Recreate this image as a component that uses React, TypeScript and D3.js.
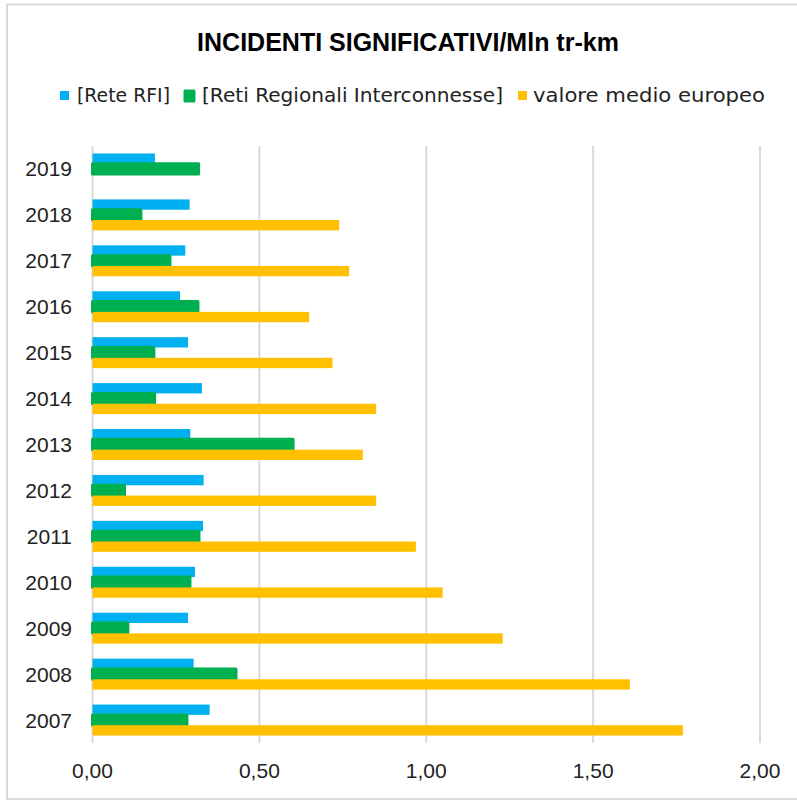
import React from 'react';
import * as d3 from 'd3';

// Significant incidents per million train-km, by year
const years = ['2019', '2018', '2017', '2016', '2015', '2014', '2013', '2012', '2011', '2010', '2009', '2008', '2007'];
const reteRFI = [0.187, 0.291, 0.278, 0.262, 0.286, 0.328, 0.293, 0.333, 0.331, 0.307, 0.286, 0.303, 0.351];
const retiRegionali = [0.318, 0.145, 0.232, 0.316, 0.184, 0.186, 0.601, 0.096, 0.319, 0.292, 0.106, 0.43, 0.283];
const mediaEuropea: (number | null)[] = [null, 0.739, 0.769, 0.649, 0.719, 0.85, 0.81, 0.85, 0.969, 1.049, 1.229, 1.61, 1.769];

const seriesNames = ['[Rete RFI]', '[Reti Regionali Interconnesse]', 'valore medio europeo'];
const seriesColors = ['#00B0F0', '#00B050', '#FFC000'];
const xTicks = [0, 0.5, 1, 1.5, 2];

const W = 797;
const H = 800;

const itLocale = d3.formatLocale({ decimal: ',', thousands: '.', grouping: [3], currency: ['€', ''] });
const fmt = itLocale.format('.2f');

export default function App() {
  const x = d3.scaleLinear().domain([0, 2]).range([92.5, 760]);
  const y = d3.scaleBand<string>().domain(years).range([146, 743]).paddingInner(0.326).paddingOuter(0.163);
  const sub = d3.scaleBand<number>().domain([0, 1, 2]).range([0, y.bandwidth()]);

  const series = [reteRFI, retiRegionali, mediaEuropea];

  // legend layout: swatch x, text x, text length
  const legendItems = [
    { sq: 60, tx: 77, len: 93 },
    { sq: 185, tx: 202, len: 301 },
    { sq: 518, tx: 533, len: 232 },
  ];

  return (
    <svg width={W} height={H} style={{ position: 'absolute', left: 0, top: 0, background: '#fff' }}>
      <rect x={7} y={4.5} width={800} height={794.5} fill="#fff" stroke="#D9D9D9" strokeWidth={2} />
      <text x={408} y={51} textAnchor="middle" fontFamily="Liberation Sans, Arial, sans-serif" fontWeight="bold" fontSize={25} fill="#000">
        INCIDENTI SIGNIFICATIVI/Mln tr-km
      </text>

      {legendItems.map((it, i) => (
        <g key={seriesNames[i]}>
          {i === 1 ? (
            <rect x={it.sq} y={91} width={9} height={10} fill={seriesColors[i]} stroke={seriesColors[i]} strokeWidth={3} strokeLinejoin="round" />
          ) : (
            <rect x={it.sq} y={91} width={9} height={9} fill={seriesColors[i]} />
          )}
          <text
            x={it.tx}
            y={102}
            fontFamily="DejaVu Sans, sans-serif"
            fontSize={19.5}
            fill="#222"
            textLength={it.len}
            lengthAdjust="spacingAndGlyphs"
          >
            {seriesNames[i]}
          </text>
        </g>
      ))}

      {xTicks.map((t) => (
        <g key={t}>
          <line x1={x(t)} x2={x(t)} y1={146} y2={743} stroke="#D9D9D9" strokeWidth={2} />
          <text x={x(t)} y={778} textAnchor="middle" fontFamily="Liberation Sans, Arial, sans-serif" fontSize={21} fill="#222">
            {fmt(t)}
          </text>
        </g>
      ))}

      {years.map((yr, yi) => (
        <g key={yr} transform={`translate(0,${y(yr)})`}>
          {series.map((s, si) => {
            const v = s[yi];
            if (v == null) return null;
            const isGreen = si === 1;
            return (
              <rect
                key={si}
                x={x(0)}
                y={sub(si)}
                width={x(v) - x(0)}
                height={sub.bandwidth()}
                fill={seriesColors[si]}
                stroke={isGreen ? seriesColors[si] : 'none'}
                strokeWidth={isGreen ? 3 : 0}
                strokeLinejoin="round"
              />
            );
          })}
          <text x={72} y={y.bandwidth() / 2 + 7.5} textAnchor="end" fontFamily="Liberation Sans, Arial, sans-serif" fontSize={21} fill="#222">
            {yr}
          </text>
        </g>
      ))}
    </svg>
  );
}
